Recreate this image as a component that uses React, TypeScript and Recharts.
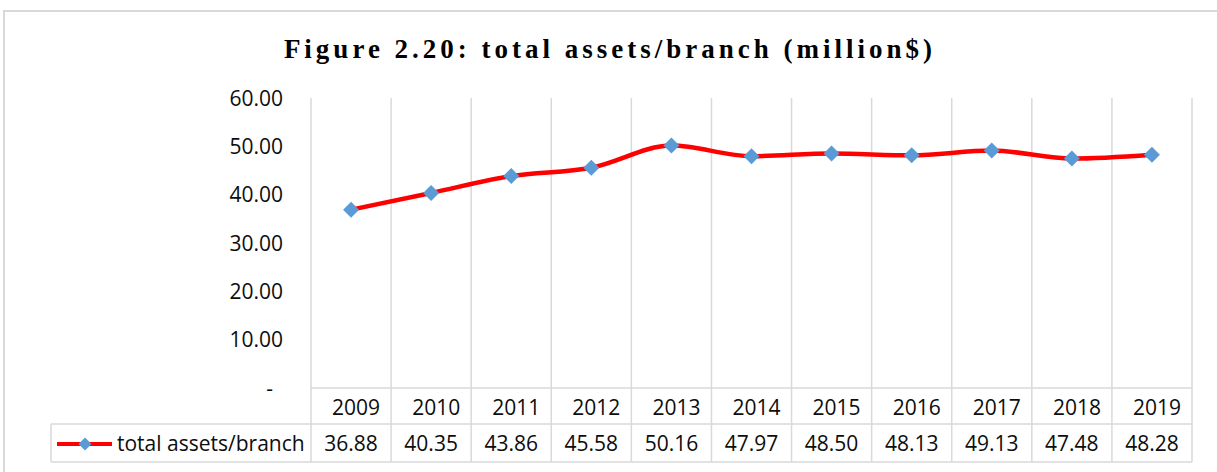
import React from "react";
import { LineChart, Line, XAxis, YAxis, CartesianGrid, Customized } from "recharts";

const years = ["2009", "2010", "2011", "2012", "2013", "2014", "2015", "2016", "2017", "2018", "2019"];
const assetsPerBranch = [36.88, 40.35, 43.86, 45.58, 50.16, 47.97, 48.5, 48.13, 49.13, 47.48, 48.28];
const yTicks = [0, 10, 20, 30, 40, 50, 60];
const seriesName = "total assets/branch";
const titleText = "Figure 2.20: total assets/branch (million$)";

const data = years.map((y, i) => ({ year: y, value: assetsPerBranch[i] }));

const W = 1217;
const H = 472;
const MARGIN = { top: 98, right: 25, left: 251, bottom: 10 };
const Y_W = 60;
const X_H = 74;
const PLOT_W = W - MARGIN.left - Y_W - MARGIN.right;
const BAND = PLOT_W / years.length;
const GRID = "#D9D9D9";
const FONT = "'Open Sans', sans-serif";
const FS = 21;
const RED = "#FF0000";
const BLUE = "#5B9BD5";
const LEGEND_LEFT = 51;

const Diamond = ({ cx, cy, r = 8 }: any) => (
  <polygon points={`${cx},${cy - r} ${cx + r},${cy} ${cx},${cy + r} ${cx - r},${cy}`} fill={BLUE} />
);

const YTick = (props: any) => {
  const { x, y, payload } = props;
  const v = payload.value;
  return (
    <text x={v === 0 ? x - 10 : x} y={y} dy={7.5} textAnchor="end" fontFamily={FONT} fontSize={FS} fill="#0D0D0D">
      {v === 0 ? "-" : Number(v).toFixed(2)}
    </text>
  );
};

const XTick = (props: any) => {
  const { x, y, payload, index } = props;
  const left = x - BAND / 2;
  const right = x + BAND / 2;
  const top = y;
  const mid = top + 36;
  const bot = top + 74;
  const val = assetsPerBranch[index];
  return (
    <g>
      <line x1={left} y1={top} x2={right} y2={top} stroke={GRID} strokeWidth={1.5} />
      <line x1={left} y1={mid} x2={right} y2={mid} stroke={GRID} strokeWidth={1.5} />
      <line x1={left} y1={bot} x2={right} y2={bot} stroke={GRID} strokeWidth={1.5} />
      <line x1={left} y1={top} x2={left} y2={bot} stroke={GRID} strokeWidth={1.5} />
      {index === years.length - 1 && (
        <line x1={right} y1={top} x2={right} y2={bot} stroke={GRID} strokeWidth={1.5} />
      )}
      <text x={right - 11} y={top + 27} textAnchor="end" fontFamily={FONT} fontSize={FS} fill="#0D0D0D">
        {payload.value}
      </text>
      <text x={x} y={top + 63} textAnchor="middle" fontFamily={FONT} fontSize={FS} fill="#0D0D0D">
        {val.toFixed(2)}
      </text>
      {index === 0 && (
        <g>
          <line x1={LEGEND_LEFT} y1={mid} x2={left} y2={mid} stroke={GRID} strokeWidth={1.5} />
          <line x1={LEGEND_LEFT} y1={bot} x2={left} y2={bot} stroke={GRID} strokeWidth={1.5} />
          <line x1={LEGEND_LEFT} y1={mid} x2={LEGEND_LEFT} y2={bot} stroke={GRID} strokeWidth={1.5} />
          <line x1={LEGEND_LEFT + 6} y1={top + 56} x2={LEGEND_LEFT + 61} y2={top + 56} stroke={RED} strokeWidth={4} />
          <Diamond cx={LEGEND_LEFT + 34} cy={top + 56} r={6.5} />
          <text x={LEGEND_LEFT + 66} y={top + 63} textAnchor="start" fontFamily={FONT} fontSize={FS} fill="#0D0D0D">
            {seriesName}
          </text>
        </g>
      )}
    </g>
  );
};

const Title = () => (
  <text
    x={610}
    y={58}
    textAnchor="middle"
    fontFamily="'Liberation Serif', serif"
    fontWeight="bold"
    fontSize={27}
    letterSpacing={4}
    fill="#000"
  >
    {titleText}
  </text>
);

export default function App() {
  return (
    <div style={{ position: "absolute", left: 0, top: 0, width: W, height: H, overflow: "hidden", background: "#fff" }}>
      <div
        style={{
          position: "absolute",
          left: 3,
          top: 10,
          width: W + 20,
          height: H + 20,
          border: `2px solid ${GRID}`,
          boxSizing: "border-box",
        }}
      />
      <div style={{ position: "absolute", left: 0, top: 0 }}>
        <LineChart width={W} height={H} data={data} margin={MARGIN}>
          <CartesianGrid
            horizontal={false}
            stroke={GRID}
            strokeWidth={1.5}
            verticalCoordinatesGenerator={({ offset }: any) =>
              Array.from({ length: years.length + 1 }, (_, i) => offset.left + (i * offset.width) / years.length)
            }
          />
          <XAxis
            dataKey="year"
            height={X_H}
            axisLine={false}
            tickLine={false}
            tickSize={0}
            tickMargin={0}
            interval={0}
            padding={{ left: BAND / 2, right: BAND / 2 }}
            tick={<XTick />}
          />
          <YAxis
            width={Y_W}
            domain={[0, 60]}
            ticks={yTicks}
            axisLine={false}
            tickLine={false}
            tickSize={0}
            tickMargin={28}
            tick={<YTick />}
          />
          <Line
            dataKey="value"
            type="monotone"
            stroke={RED}
            strokeWidth={4.5}
            dot={<Diamond r={8} />}
            activeDot={false}
            isAnimationActive={false}
          />
          <Customized component={Title} />
        </LineChart>
      </div>
    </div>
  );
}
